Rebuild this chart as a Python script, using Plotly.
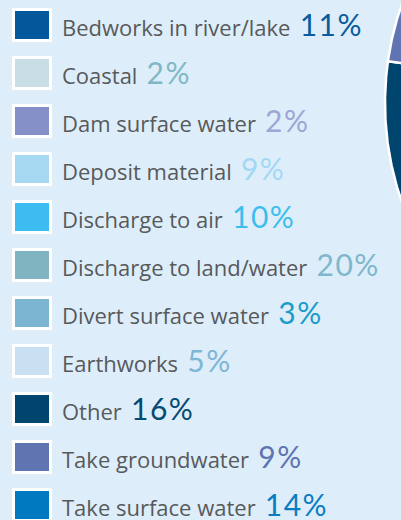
import numpy as np
import plotly.graph_objects as go

categories = ["Bedworks in river/lake", "Coastal", "Dam surface water", "Deposit material",
              "Discharge to air", "Discharge to land/water", "Divert surface water",
              "Earthworks", "Other", "Take groundwater", "Take surface water"]
values = [11, 2, 2, 9, 10, 20, 3, 5, 16, 9, 14]
pct_labels = ["11%", "2%", "2%", "9%", "10%", "20%", "3%", "5%", "16%", "9%", "14%"]
slice_colors = ["#02589b", "#c9dde4", "#8590c8", "#a7d8f2", "#3dbdef", "#80b4c1",
                "#7cb5d2", "#c9e0f3", "#00456e", "#5f74b0", "#0079c0"]
pct_colors = ["#0b5c9e", "#7fb8c4", "#9ea6d6", "#a3d8f5", "#3dbdee", "#7fb7cc",
              "#1b9cc8", "#7fb5d5", "#074a74", "#5f74b0", "#0a7dc2"]

W, H = 401, 520
BG = "#ddeefa"
# pie geometry (pixel frame): centre off to the right, only its left edge visible
CX, CY, R = 685, 103, 300
# legend rows
ROW0, STEP = 25, 48

fig = go.Figure()

total = sum(values)
start = 0.0
for cat, v, col in zip(categories, values, slice_colors):
    a0 = start / total * 2 * np.pi
    a1 = (start + v) / total * 2 * np.pi
    t = np.linspace(a0, a1, 200)
    xs = np.concatenate([[CX], CX + R * np.sin(t), [CX]])
    ys = np.concatenate([[CY], CY - R * np.cos(t), [CY]])
    fig.add_trace(go.Scatter(x=xs, y=ys, mode="lines", fill="toself", fillcolor=col,
                             line=dict(color="white", width=2.5), hoverinfo="skip",
                             showlegend=False, name=cat, cliponaxis=True))
    start += v

shapes = []
annotations = []
for i, (cat, pl, sc, pc) in enumerate(zip(categories, pct_labels, slice_colors, pct_colors)):
    yc = ROW0 + i * STEP
    shapes.append(dict(type="rect", xref="x", yref="y", x0=13.5, x1=50.5,
                       y0=yc - 15.5, y1=yc + 15.5,
                       fillcolor=sc, line=dict(color="white", width=3), layer="above"))
    annotations.append(dict(xref="x", yref="y", x=60, y=yc - 1, xanchor="left", yanchor="middle",
                            showarrow=False,
                            text=(f"{cat}<span style='color:{pc};font-size:30px;font-family:Lato;"
                                  f"letter-spacing:1.5px'> {pl}</span>"),
                            font=dict(family="Open Sans", size=22, color="#58595b")))

fig.update_layout(
    width=W, height=H, margin=dict(l=0, r=0, t=0, b=0),
    paper_bgcolor=BG, plot_bgcolor=BG,
    xaxis=dict(range=[0, W], visible=False, fixedrange=True),
    yaxis=dict(range=[H, 0], visible=False, fixedrange=True),
    shapes=shapes, annotations=annotations, showlegend=False,
)

fig.write_html("out.html", config={"displayModeBar": False})
with open("out.html", encoding="utf-8") as f:
    html = f.read()
html = html.replace("<body>", "<body style=\"margin:0;padding:0\">", 1)
with open("out.html", "w", encoding="utf-8") as f:
    f.write(html)
